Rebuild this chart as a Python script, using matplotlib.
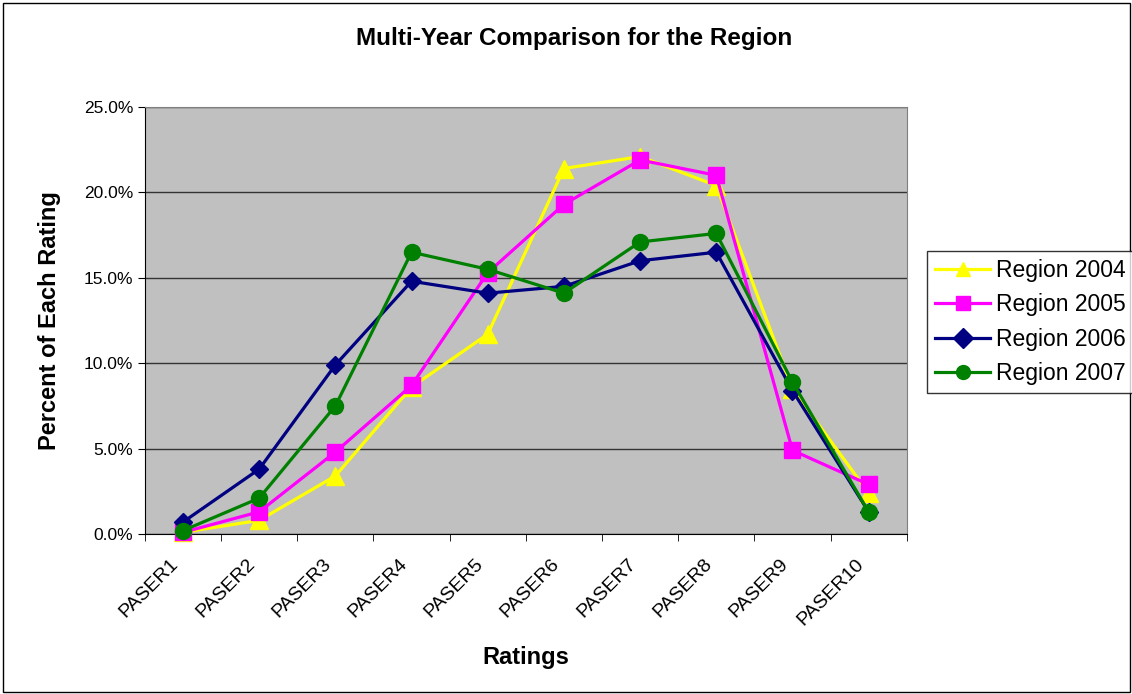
import matplotlib.pyplot as plt
from matplotlib.patches import Rectangle
from matplotlib.ticker import FixedLocator, PercentFormatter
from matplotlib.transforms import ScaledTranslation

plt.rcParams['font.family'] = ['Liberation Sans', 'DejaVu Sans']

# --- datos: porcentaje de tramos por calificación PASER ---
ratings = ['PASER1', 'PASER2', 'PASER3', 'PASER4', 'PASER5',
           'PASER6', 'PASER7', 'PASER8', 'PASER9', 'PASER10']

region_2004 = [0.1, 0.8, 3.4, 8.6, 11.7, 21.4, 22.1, 20.4, 8.5, 2.4]
region_2005 = [0.1, 1.3, 4.8, 8.7, 15.3, 19.3, 21.9, 21.0, 4.9, 2.9]
region_2006 = [0.7, 3.8, 9.9, 14.8, 14.1, 14.5, 16.0, 16.5, 8.4, 1.3]
region_2007 = [0.2, 2.1, 7.5, 16.5, 15.5, 14.1, 17.1, 17.6, 8.9, 1.3]

series = [
    ('Region 2004', region_2004, '#FFFF00', '^', 13),
    ('Region 2005', region_2005, '#FF00FF', 's', 11),
    ('Region 2006', region_2006, '#000080', 'D', 9),
    ('Region 2007', region_2007, '#008000', 'o', 11.5),
]

fig = plt.figure(figsize=(11.32, 6.94), dpi=100)
ax = fig.add_axes([0.128, 0.2305, 0.673, 0.6153])
ax.set_facecolor('#C0C0C0')

x = list(range(len(ratings)))
for name, vals, color, marker, ms in series:
    ax.plot(x, vals, color=color, marker=marker, markersize=ms,
            linewidth=2.3, label=name, clip_on=False, zorder=3)

# --- ejes estilo hoja de cálculo ---
ax.set_xlim(-0.5, len(ratings) - 0.5)
ax.set_ylim(0, 25)
ax.set_yticks([0, 5, 10, 15, 20, 25])
ax.yaxis.set_major_formatter(PercentFormatter(decimals=1))
ax.yaxis.grid(True, color='#333333', linewidth=1.0)
ax.set_axisbelow(True)

ax.set_xticks(x)
ax.set_xticklabels(ratings, rotation=45, ha='right', va='center',
                   rotation_mode='anchor', fontsize=14)
ax.tick_params(axis='x', which='major', length=0, pad=20)
# desplazar un poco las etiquetas a la izquierda
shift = ScaledTranslation(-7 / 100, 0, fig.dpi_scale_trans)
for lbl in ax.get_xticklabels():
    lbl.set_transform(lbl.get_transform() + shift)
ax.xaxis.set_minor_locator(FixedLocator([i - 0.5 for i in range(len(ratings) + 1)]))
ax.tick_params(axis='x', which='minor', length=5, direction='out', color='black')
ax.tick_params(axis='y', length=5, direction='out', color='black', labelsize=12.5)

for side in ['top', 'right']:
    ax.spines[side].set_color('#808080')
for side in ['left', 'bottom']:
    ax.spines[side].set_color('black')

ax.set_xlabel('Ratings', fontsize=17, fontweight='bold', labelpad=12)
ax.set_ylabel('Percent of Each Rating', fontsize=17, fontweight='bold', labelpad=16)
fig.text(0.507, 0.945, 'Multi-Year Comparison for the Region',
         fontsize=17.5, fontweight='bold', ha='center', va='center')

leg = fig.legend(loc='center left', bbox_to_anchor=(0.819, 0.536),
                 fontsize=16.5, frameon=True, fancybox=False,
                 edgecolor='black', handlelength=2.4, borderpad=0.35,
                 labelspacing=0.5, handletextpad=0.25, borderaxespad=0)
leg.get_frame().set_linewidth(1.0)
for h in leg.legend_handles:
    h.set_markersize(10)

# marco exterior del gráfico
fig.patches.append(Rectangle((0.003, 0.003), 0.995, 0.993, transform=fig.transFigure,
                             fill=False, edgecolor='black', linewidth=1.0))

fig.savefig('out.png', dpi=100)
